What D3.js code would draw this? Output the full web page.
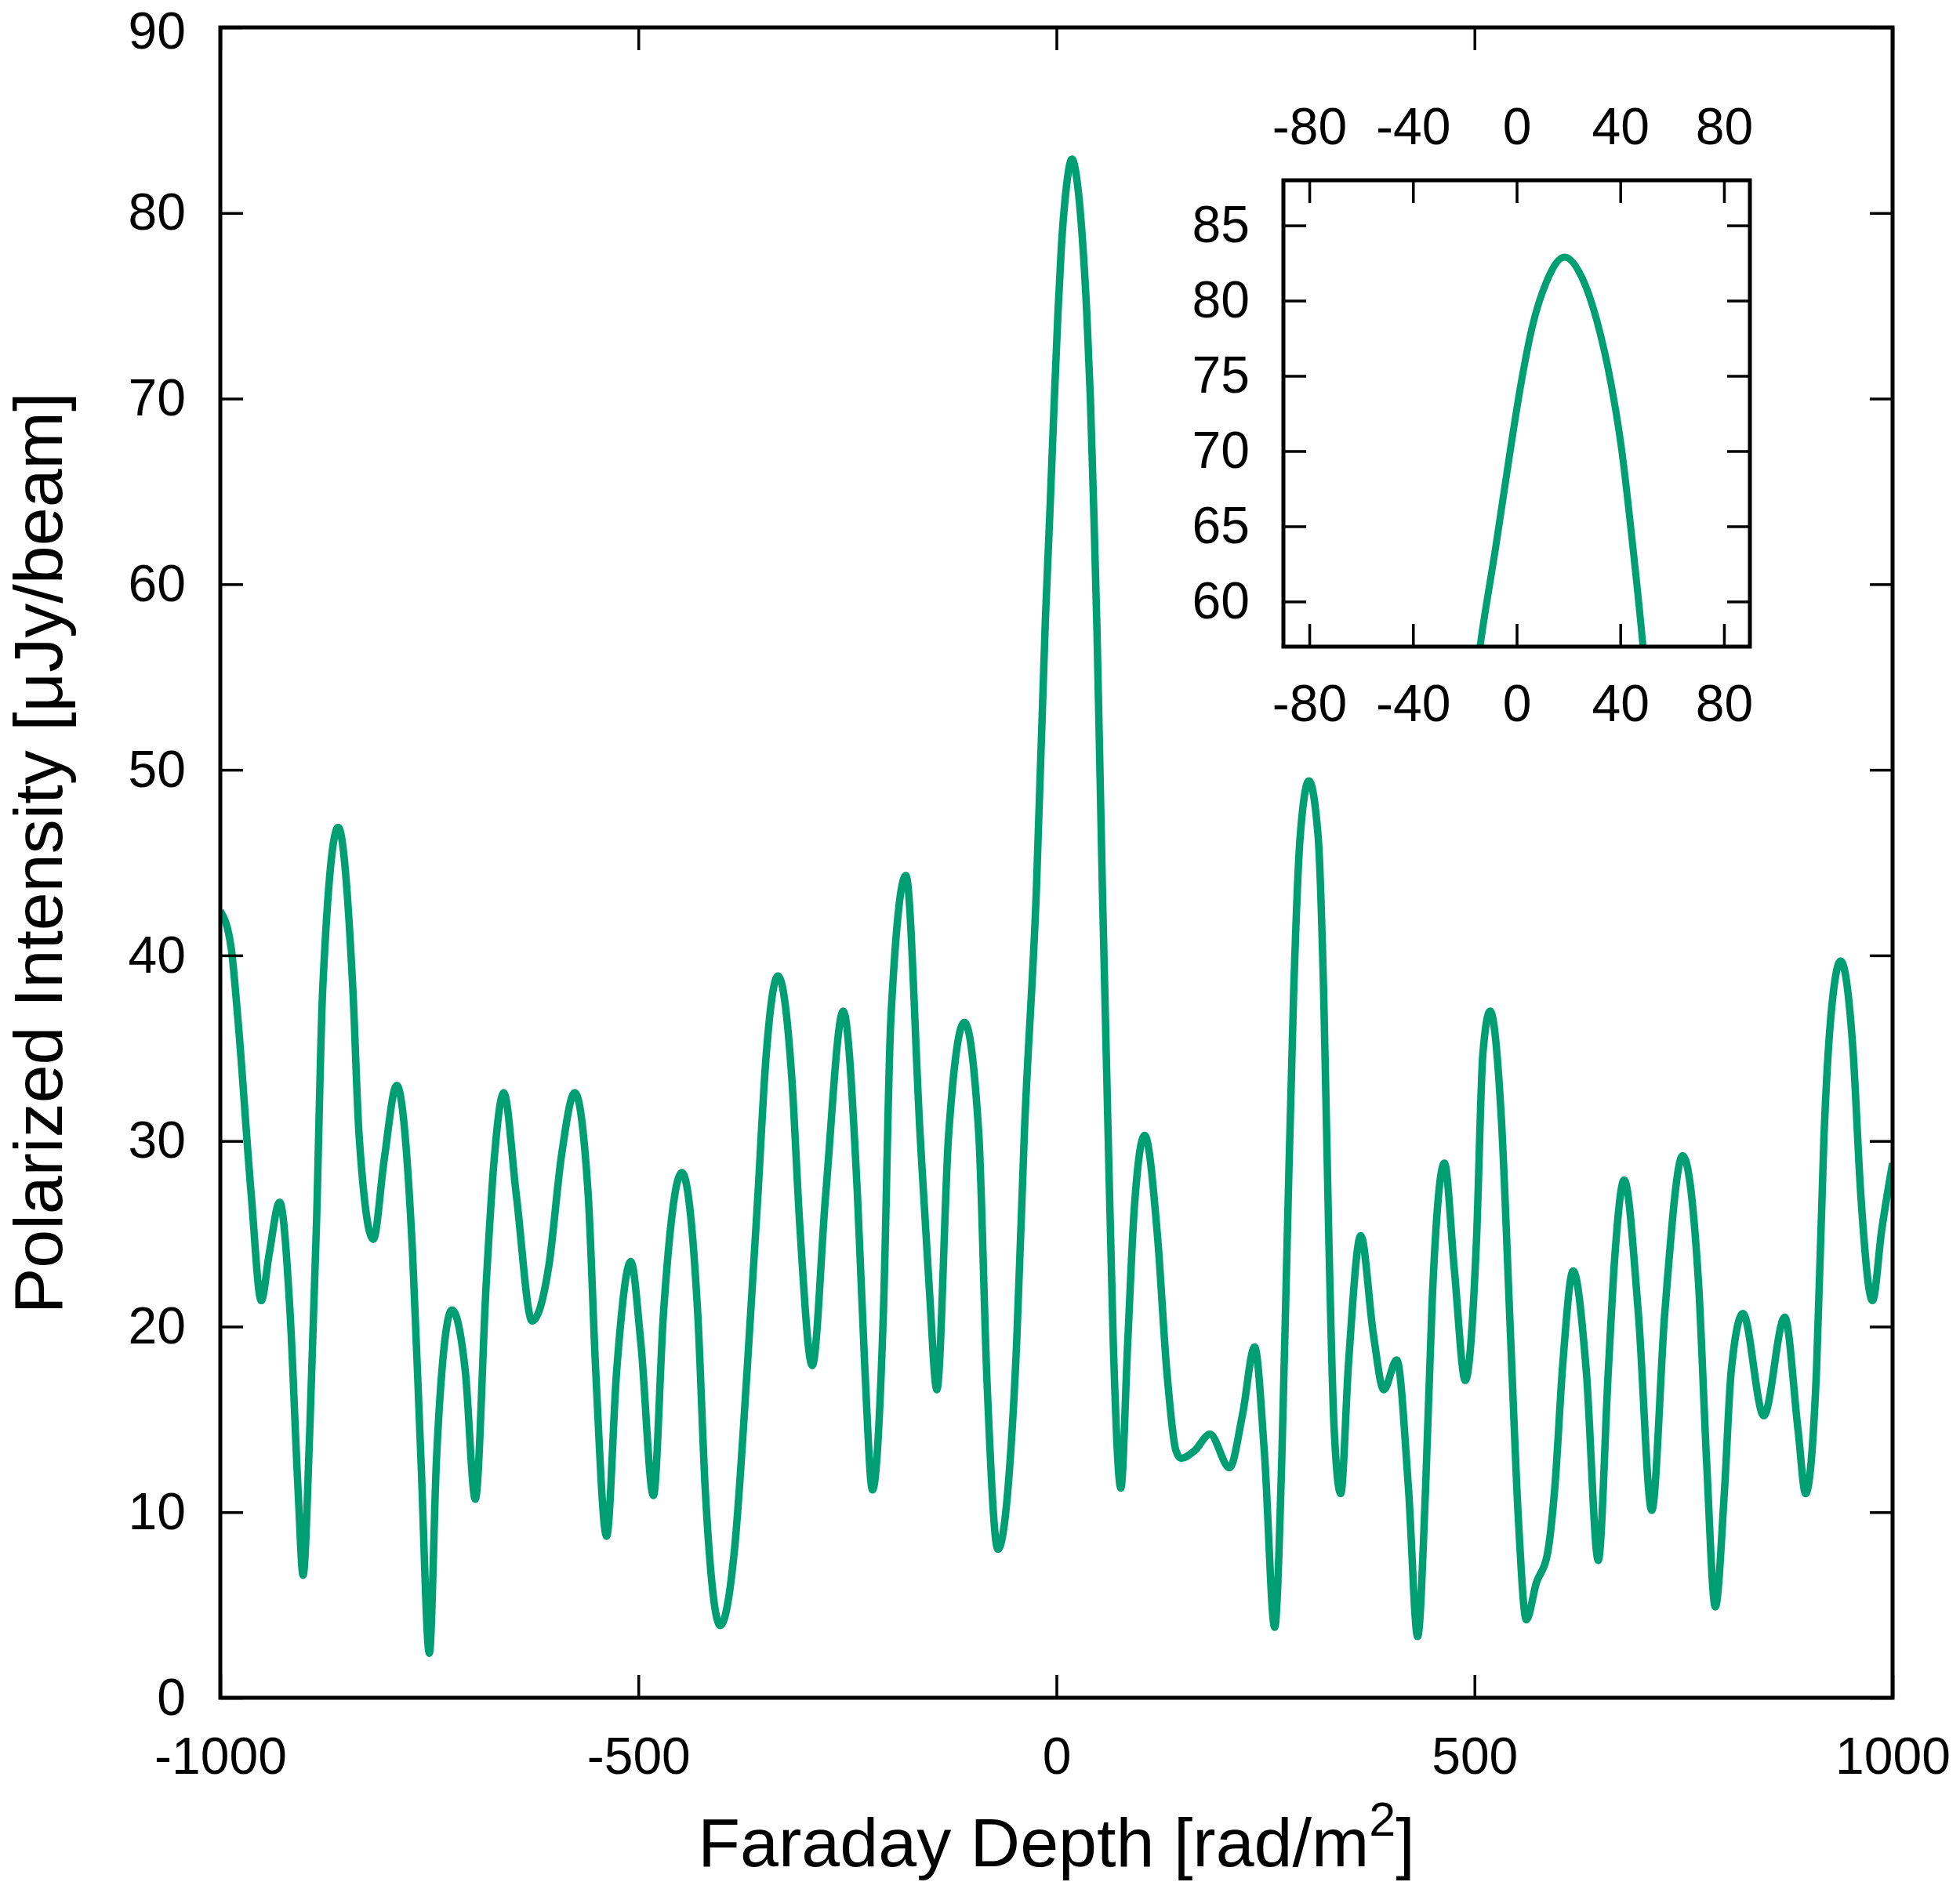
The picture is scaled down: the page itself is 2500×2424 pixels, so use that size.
<!DOCTYPE html>
<html>
<head>
<meta charset="utf-8">
<script src="https://cdn.jsdelivr.net/npm/d3@7/dist/d3.min.js"></script>
<style>
  html, body { margin: 0; padding: 0; background: #ffffff; }
  svg { display: block; }
  text { font-family: "Liberation Sans", Arial, Helvetica, sans-serif; fill: #000; }
</style>
</head>
<body>
<svg id="chart" width="2500" height="2424"></svg>
<script>
// ---- data (Faraday depth [rad/m^2], polarized intensity [uJy/beam]) ----
const depth = [
  -1000, -987, -979, -963, -951, -941.6, -929, -916.5, -907, -901, -893, -885, -877.5, -859,
  -841.5, -834, -817, -804, -789, -770, -760, -750, -741.5, -735, -723, -707, -695, -682, -673,
  -661, -646, -627, -607, -592, -576, -560, -551, -538, -526, -509, -497, -482, -470, -448, -429, -420,
  -402, -385, -370, -357, -348, -333, -316.5, -307, -292, -276, -255, -238, -229, -220, -207,
  -198, -180, -163, -152, -143, -129, -110, -93, -83, -70, -57, -47.6, -38.3, -24, -13.3, -8,
  -2.5, 1.7, 5.8, 11.4, 18.5, 25.3, 30.9, 36.4, 40.6, 44.8, 48.5, 55, 61.7, 68, 77, 85.2, 93,
  105.5, 121, 132, 143, 149, 165, 183.6, 207, 222.7, 237, 249, 261, 269.6, 276, 283.7, 291.5,
  302, 313, 319.6, 325.8, 332, 340, 349.3, 364, 379, 391.5, 407, 421, 432, 441.5, 449.3, 464,
  476, 489, 502.4, 510, 518.7, 532, 543, 552.5, 562, 574, 587, 596, 605.6, 618, 633.7, 648,
  660, 668, 679, 696, 712, 727.5, 749, 768, 777.5, 788, 799, 807, 821, 846, 871, 887, 896, 909,
  918, 926, 938, 952.5, 962, 976, 987, 1000
];
const intensity = [
  42.4, 40.4, 36.6, 27.1, 21.4, 23.9, 26.7, 20.7, 11.2, 6.6, 14.4, 25.5, 38.2, 46.9,
  38.2, 30.3, 24.7, 29.0, 33.0, 23.9, 12.8, 2.4, 12.8, 17.6, 20.9, 17.6, 10.7, 22.3, 28.7,
  32.6, 27.1, 20.3, 23.3, 29.2, 32.6, 27.1, 17.6, 8.7, 17.6, 23.5, 19.1, 10.9, 20.7, 28.3, 20.7, 11.2,
  3.9, 8.0, 17.6, 27.1, 34.1, 38.9, 33.4, 25.5, 17.9, 27.1, 37.0, 27.1, 17.6, 11.2, 20.7,
  36.6, 44.3, 30.3, 22.0, 16.6, 30.3, 36.4, 30.5, 17.0, 8.0, 11.8, 19.1, 30.5, 43.5, 58.0, 63.7,
  70.0, 74.5, 78.1, 81.2, 82.9, 81.5, 78.7, 74.5, 70.0, 63.7, 57.5, 43.5, 30.6, 19.1, 11.3, 19.1, 26.3,
  30.3, 24.8, 17.6, 13.3, 12.9, 13.3, 14.2, 12.4, 15.3, 18.9, 13.0, 3.8, 13.0, 24.7, 38.0, 46.4,
  49.4, 46.4, 38.0, 24.7, 14.6, 11.0, 18.0, 24.9, 19.6, 16.6, 18.2, 11.3, 3.3, 11.3, 21.3, 28.8,
  23.0, 17.1, 24.7, 34.7, 37.0, 31.3, 19.6, 9.6, 4.2, 6.2, 7.7, 11.3, 18.0, 23.0, 17.6, 7.4,
  17.6, 23.9, 27.9, 20.7, 10.1, 20.7, 29.2, 22.3, 12.8, 4.9, 11.2, 17.6, 20.7, 15.2, 20.5, 14.4, 11.0, 17.6,
  30.3, 36.6, 39.7, 35.0, 27.1, 21.4, 25.2, 28.8
];
const xTicks = [-1000, -500, 0, 500, 1000];
const yTicks = [0, 10, 20, 30, 40, 50, 60, 70, 80, 90];
const insetXTicks = [-80, -40, 0, 40, 80];
const insetYTicks = [60, 65, 70, 75, 80, 85];

const series = depth.map((d, i) => ({ x: d, y: intensity[i] }));

// ---- layout ----
const svg = d3.select("#chart");
const M = { left: 281, right: 2414, top: 35, bottom: 2166 };
const green = "#009E73";
const tickLen = 29;
const labelSize = 66;
const fmt = d => String(d); // plain hyphen-minus as in the reference

const x = d3.scaleLinear().domain([-1000, 1000]).range([M.left, M.right]);
const y = d3.scaleLinear().domain([0, 90]).range([M.bottom, M.top]);

const defs = svg.append("defs");
defs.append("clipPath").attr("id", "mainClip")
  .append("rect").attr("x", M.left).attr("y", M.top)
  .attr("width", M.right - M.left).attr("height", M.bottom - M.top);

const line = d3.line().x(d => x(d.x)).y(d => y(d.y)).curve(d3.curveMonotoneX);

svg.append("path").datum(series)
  .attr("clip-path", "url(#mainClip)")
  .attr("d", line)
  .attr("fill", "none").attr("stroke", green).attr("stroke-width", 9.5)
  .attr("stroke-linejoin", "round").attr("stroke-linecap", "butt");

function styleAxis(g) {
  g.select(".domain").remove();
  g.selectAll(".tick line").attr("stroke", "#000").attr("stroke-width", 3.5);
  g.selectAll(".tick text").attr("font-size", labelSize)
    .attr("font-family", "'Liberation Sans', Arial, Helvetica, sans-serif").attr("fill", "#000");
}
svg.append("g").attr("transform", `translate(0,${M.bottom})`)
  .call(d3.axisBottom(x).tickValues(xTicks).tickSizeInner(-tickLen).tickSizeOuter(0).tickPadding(50).tickFormat(fmt))
  .call(styleAxis)
  .call(g => g.selectAll(".tick text").attr("dy", "0.71em"));
svg.append("g").attr("transform", `translate(0,${M.top})`)
  .call(d3.axisTop(x).tickValues(xTicks).tickSizeInner(-tickLen).tickSizeOuter(0).tickFormat(""))
  .call(styleAxis);
svg.append("g").attr("transform", `translate(${M.left},0)`)
  .call(d3.axisLeft(y).tickValues(yTicks).tickSizeInner(-tickLen).tickSizeOuter(0).tickPadding(44).tickFormat(fmt))
  .call(styleAxis)
  .call(g => g.selectAll(".tick").filter(d => d === 90).select("text").attr("y", 5));
svg.append("g").attr("transform", `translate(${M.right},0)`)
  .call(d3.axisRight(y).tickValues(yTicks).tickSizeInner(-tickLen).tickSizeOuter(0).tickFormat(""))
  .call(styleAxis);

svg.append("rect").attr("x", M.left).attr("y", M.top)
  .attr("width", M.right - M.left).attr("height", M.bottom - M.top)
  .attr("fill", "none").attr("stroke", "#000").attr("stroke-width", 5);

// axis titles
const xt = svg.append("text").attr("x", (M.left + M.right) / 2).attr("y", 2381)
  .attr("text-anchor", "middle").attr("font-size", 88);
xt.append("tspan").text("Faraday Depth [rad/m");
xt.append("tspan").attr("font-size", 61).attr("dy", -39).text("2");
xt.append("tspan").attr("dy", 39).text("]");

svg.append("text").attr("transform", `translate(79,${(M.top + M.bottom) / 2 - 12}) rotate(-90)`)
  .attr("text-anchor", "middle").attr("font-size", 88)
  .text("Polarized Intensity [\u03BCJy/beam]");

// ---- inset ----
const I = { left: 1637, right: 2232, top: 230, bottom: 825 };
const xi = d3.scaleLinear().domain([-90, 90]).range([I.left, I.right]);
const yi = d3.scaleLinear().domain([57, 88]).range([I.bottom, I.top]);

svg.append("rect").attr("x", I.left).attr("y", I.top)
  .attr("width", I.right - I.left).attr("height", I.bottom - I.top).attr("fill", "#fff");

defs.append("clipPath").attr("id", "insetClip")
  .append("rect").attr("x", I.left).attr("y", I.top)
  .attr("width", I.right - I.left).attr("height", I.bottom - I.top);

const lineI = d3.line().x(d => xi(d.x)).y(d => yi(d.y)).curve(d3.curveMonotoneX);
svg.append("path").datum(series.filter(d => d.x >= -60 && d.x <= 80))
  .attr("clip-path", "url(#insetClip)")
  .attr("d", lineI)
  .attr("fill", "none").attr("stroke", green).attr("stroke-width", 9)
  .attr("stroke-linejoin", "round");

svg.append("g").attr("transform", `translate(0,${I.bottom})`)
  .call(d3.axisBottom(xi).tickValues(insetXTicks).tickSizeInner(-tickLen).tickSizeOuter(0).tickPadding(48).tickFormat(fmt))
  .call(styleAxis)
  .call(g => g.selectAll(".tick text").attr("dy", "0.71em"));
svg.append("g").attr("transform", `translate(0,${I.top})`)
  .call(d3.axisTop(xi).tickValues(insetXTicks).tickSizeInner(-tickLen).tickSizeOuter(0).tickPadding(46).tickFormat(fmt))
  .call(styleAxis);
svg.append("g").attr("transform", `translate(${I.left},0)`)
  .call(d3.axisLeft(yi).tickValues(insetYTicks).tickSizeInner(-tickLen).tickSizeOuter(0).tickPadding(43).tickFormat(fmt))
  .call(styleAxis);
svg.append("g").attr("transform", `translate(${I.right},0)`)
  .call(d3.axisRight(yi).tickValues(insetYTicks).tickSizeInner(-tickLen).tickSizeOuter(0).tickFormat(""))
  .call(styleAxis);

svg.append("rect").attr("x", I.left).attr("y", I.top)
  .attr("width", I.right - I.left).attr("height", I.bottom - I.top)
  .attr("fill", "none").attr("stroke", "#000").attr("stroke-width", 5);
</script>
</body>
</html>
